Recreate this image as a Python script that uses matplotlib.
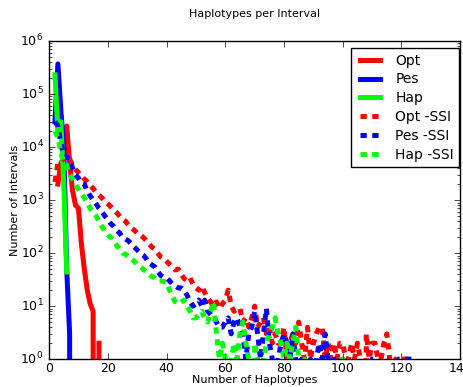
import matplotlib

matplotlib.use("Agg")
import matplotlib.pyplot as plt
import numpy as np

# haplotype count histograms (number of intervals per haplotype count)
opt_start = 3
opt = [2000, 5000, 6000, 25000, 5000, 1500, 800, 700, 150, 50, 20, 11, 8, 0, 2]
pes_start = 2
pes = [30000, 370000, 50000, 10000, 50, 3, 0]
hap_start = 2
hap = [230000, 20000, 30000, 2000, 44]

ssi_start = 2
opt_ssi = [
    2200, 5000, 5500, 6000, 7000, 6000, 4500, 3800, 3300, 2900,
    2500, 2200, 1900, 1650, 1400, 1250, 1100, 950, 850, 750,
    650, 580, 500, 440, 400, 340, 300, 270, 240, 220,
    200, 175, 150, 130, 120, 100, 85, 80, 70, 62,
    55, 48, 50, 40, 33, 30, 34, 26, 22, 20,
    24, 18, 14, 12, 10, 12, 9, 11, 13, 20,
    10, 8, 9, 9, 5, 6, 4, 6, 10, 4,
    5, 6, 3, 4, 2, 3, 2, 2, 4, 1,
    2, 3, 2, 5, 2, 1, 4, 1, 2, 3,
    4, 4, 1, 2, 1, 2, 1, 2, 2, 1,
    1, 2, 1, 2, 1, 0, 3, 1, 2, 2,
    1, 1, 2, 3, 1, 0, 1, 1, 1, 1,
    1, 1, 1, 0,
]
pes_ssi = [
    30000, 25000, 12000, 7000, 6500, 6000, 4000, 3000, 2600, 2100,
    2000, 1500, 1200, 1000, 850, 700, 600, 500, 430, 360,
    320, 270, 240, 200, 185, 170, 150, 130, 115, 100,
    92, 80, 65, 60, 55, 45, 38, 35, 34, 30,
    26, 24, 22, 22, 20, 16, 12, 10, 11, 13,
    10, 13, 8, 7, 6, 5, 4, 4, 5, 6,
    3, 5, 6, 4, 3, 1, 3, 4, 8, 3,
    1, 3, 9, 2, 1, 0, 1, 2, 3, 2,
    1, 3, 1, 0, 1, 0, 0, 1, 0, 1,
    2, 1, 3, 1, 0, 1, 0, 0, 1, 0,
    0, 0, 0, 0, 0, 0, 0, 0, 1, 1,
    0, 0, 0, 0, 0, 0, 0, 1, 1, 1,
    1, 1, 1, 1,
]
hap_ssi = [
    20000, 15000, 8000, 5000, 4500, 3000, 2500, 2000, 1600, 1300,
    1100, 900, 700, 600, 500, 400, 320, 260, 220, 200,
    170, 140, 120, 100, 95, 85, 80, 70, 60, 55,
    50, 45, 40, 36, 34, 30, 30, 29, 28, 20,
    15, 12, 11, 12, 13, 10, 8, 6, 6, 7,
    8, 6, 5, 8, 12, 3, 1, 2, 1, 0,
    1, 2, 1, 3, 5, 2, 1, 0, 2, 1,
    0, 1, 2, 3, 4, 6, 3, 2, 1, 2,
    1, 2, 4, 1, 0, 1, 0, 0, 0, 0,
    0, 0, 0, 0, 0, 0, 0, 0, 1, 0,
]

plt.style.use("classic")
plt.rcParams["figure.facecolor"] = "white"
plt.rcParams["savefig.facecolor"] = "white"

fig = plt.figure(figsize=(4.63, 3.87), dpi=100)
ax = fig.add_axes([0.106, 0.072, 0.888, 0.822])


def xs(start, vals):
    return np.arange(start, start + len(vals))


lw = 3.6
# classic style does not scale dashes with line width, so these are points
dots = (4.5, 4.0)
ax.plot(xs(opt_start, opt), opt, color="red", lw=lw, label="Opt")
ax.plot(xs(pes_start, pes), pes, color="blue", lw=lw, label="Pes")
ax.plot(xs(hap_start, hap), hap, color="lime", lw=lw, label="Hap")
ax.plot(xs(ssi_start, opt_ssi), opt_ssi, color="red", lw=lw, ls=(0, dots), label="Opt -SSI")
ax.plot(xs(ssi_start, pes_ssi), pes_ssi, color="blue", lw=lw, ls=(0, dots), label="Pes -SSI")
ax.plot(xs(ssi_start, hap_ssi), hap_ssi, color="lime", lw=lw, ls=(0, dots), label="Hap -SSI")

ax.set_yscale("log", nonpositive="clip")
ax.set_xlim(0, 140)
ax.set_ylim(1, 1e6)
ax.set_xticks(np.arange(0, 141, 20))
ax.tick_params(labelsize=9)
ax.tick_params(axis="x", pad=2)
ax.set_xlabel("Number of Haplotypes", fontsize=8, labelpad=0)
ax.set_ylabel("Number of Intervals", fontsize=8, labelpad=0)
ax.set_title("Haplotypes per Interval", fontsize=8, y=1.075, pad=0)

leg = ax.legend(loc="upper right", fontsize=10, handlelength=2.0,
                bbox_to_anchor=(0.998, 0.978), borderaxespad=0,
                labelspacing=0.35)

fig.savefig("out.png", dpi=100)
